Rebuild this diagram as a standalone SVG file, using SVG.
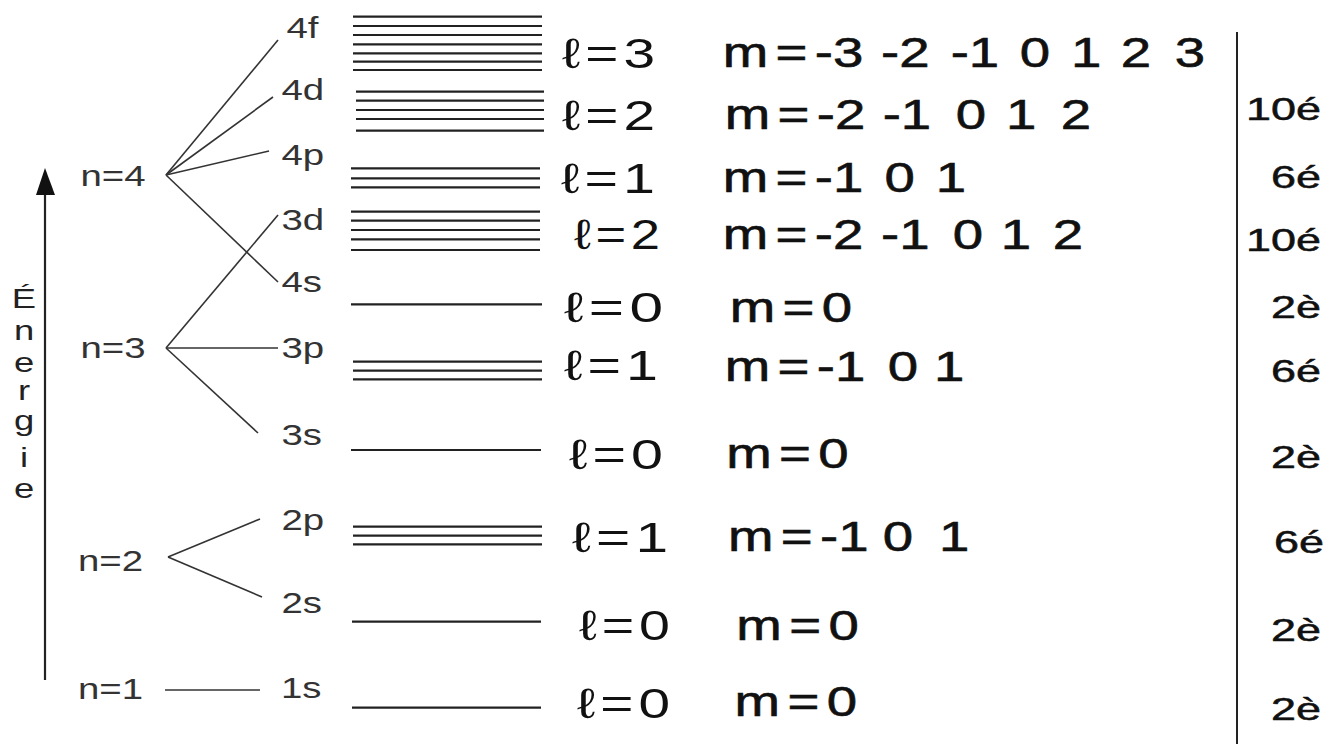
<svg xmlns="http://www.w3.org/2000/svg" width="1330" height="744" viewBox="0 0 1330 744">
<style>
.lbl{font-family:"Liberation Sans",Arial,sans-serif;font-size:30px;fill:#333}
.ell{font-family:"Liberation Sans",Arial,sans-serif;font-size:42px;fill:#111;word-spacing:-8px}
.m{font-family:"Liberation Sans",Arial,sans-serif;font-size:42px;fill:#111;stroke:#111;stroke-width:0.6px;word-spacing:-6px}
.e{font-family:"Liberation Sans",Arial,sans-serif;font-size:31px;fill:#111;stroke:#111;stroke-width:0.5px;text-anchor:end}
.lev line{stroke:#222;stroke-width:2.2}
.conn line{stroke:#333;stroke-width:1.6}
</style>
<rect width="1330" height="744" fill="#fff"/>

<g id="axis">
<line x1="45" y1="680" x2="45" y2="192" stroke="#222" stroke-width="2.2"/>
<polygon points="36,195 45,168 55,195" fill="#111"/>
<text class="lbl" transform="matrix(1.3 0 0 1 24 0)" text-anchor="middle" style="font-size:28px;fill:#222"><tspan x="0" y="308">É</tspan><tspan x="0" y="340">n</tspan><tspan x="0" y="372">e</tspan><tspan x="0" y="400">r</tspan><tspan x="0" y="430">g</tspan><tspan x="0" y="467">i</tspan><tspan x="0" y="498">e</tspan></text>
</g>

<g id="shell-n4"><text class="lbl" transform="matrix(1.28 0 0 1 80.5 186)">n=4</text></g>
<g id="shell-n3"><text class="lbl" transform="matrix(1.28 0 0 1 80.5 358)">n=3</text></g>
<g id="shell-n2"><text class="lbl" transform="matrix(1.28 0 0 1 78 571)">n=2</text></g>
<g id="shell-n1"><text class="lbl" transform="matrix(1.28 0 0 1 78 699)">n=1</text></g>

<g id="connectors" class="conn">
<line x1="166" y1="175" x2="278" y2="40"/>
<line x1="166" y1="175" x2="273" y2="97"/>
<line x1="166" y1="175" x2="269" y2="151"/>
<line x1="166" y1="175" x2="278" y2="282"/>
<line x1="166" y1="348" x2="278" y2="215"/>
<line x1="166" y1="348" x2="278" y2="348"/>
<line x1="166" y1="348" x2="258" y2="433"/>
<line x1="168" y1="557" x2="260" y2="519"/>
<line x1="168" y1="557" x2="262" y2="597"/>
<line x1="165" y1="690" x2="260" y2="690"/>
</g>

<g id="sub-4f">
<text class="lbl" transform="matrix(1.28 0 0 1 286.4 38)">4f</text>
<g class="lev"><line x1="353" y1="16.7" x2="542" y2="16.7"/><line x1="353" y1="26" x2="542" y2="26"/><line x1="353" y1="35" x2="542" y2="35"/><line x1="353" y1="44.3" x2="542" y2="44.3"/><line x1="353" y1="53.3" x2="542" y2="53.3"/><line x1="353" y1="61.7" x2="542" y2="61.7"/><line x1="353" y1="70" x2="542" y2="70"/></g>
</g>
<g id="sub-4d">
<text class="lbl" transform="matrix(1.28 0 0 1 281.4 100)">4d</text>
<g class="lev"><line x1="356" y1="91.7" x2="544" y2="91.7"/><line x1="356" y1="100.7" x2="544" y2="100.7"/><line x1="356" y1="110" x2="544" y2="110"/><line x1="356" y1="119" x2="544" y2="119"/><line x1="356" y1="130.7" x2="544" y2="130.7"/></g>
</g>
<g id="sub-4p">
<text class="lbl" transform="matrix(1.28 0 0 1 281.4 165)">4p</text>
<g class="lev"><line x1="351" y1="168.3" x2="540" y2="168.3"/><line x1="351" y1="178.3" x2="540" y2="178.3"/><line x1="351" y1="187.3" x2="540" y2="187.3"/></g>
</g>
<g id="sub-3d">
<text class="lbl" transform="matrix(1.28 0 0 1 281.4 230)">3d</text>
<g class="lev"><line x1="351" y1="211.7" x2="540" y2="211.7"/><line x1="351" y1="220.7" x2="540" y2="220.7"/><line x1="351" y1="230" x2="540" y2="230"/><line x1="351" y1="239.3" x2="540" y2="239.3"/><line x1="351" y1="250" x2="540" y2="250"/></g>
</g>
<g id="sub-4s">
<text class="lbl" transform="matrix(1.28 0 0 1 281.4 291.7)">4s</text>
<g class="lev"><line x1="351" y1="304.3" x2="542" y2="304.3"/></g>
</g>
<g id="sub-3p">
<text class="lbl" transform="matrix(1.28 0 0 1 281.4 358)">3p</text>
<g class="lev"><line x1="353" y1="361.7" x2="542" y2="361.7"/><line x1="353" y1="370.7" x2="542" y2="370.7"/><line x1="353" y1="379.3" x2="542" y2="379.3"/></g>
</g>
<g id="sub-3s">
<text class="lbl" transform="matrix(1.28 0 0 1 281.4 445)">3s</text>
<g class="lev"><line x1="351" y1="450" x2="541" y2="450"/></g>
</g>
<g id="sub-2p">
<text class="lbl" transform="matrix(1.28 0 0 1 281.4 530)">2p</text>
<g class="lev"><line x1="353" y1="526.7" x2="542" y2="526.7"/><line x1="353" y1="535.7" x2="542" y2="535.7"/><line x1="353" y1="544.3" x2="542" y2="544.3"/></g>
</g>
<g id="sub-2s">
<text class="lbl" transform="matrix(1.28 0 0 1 281.4 613)">2s</text>
<g class="lev"><line x1="352" y1="621.7" x2="541" y2="621.7"/></g>
</g>
<g id="sub-1s">
<text class="lbl" transform="matrix(1.28 0 0 1 281 698)">1s</text>
<g class="lev"><line x1="352" y1="707.7" x2="541" y2="707.7"/></g>
</g>

<g id="row-4f">
<text class="ell" x="562" y="68" textLength="93" lengthAdjust="spacingAndGlyphs">ℓ = 3</text>
<text class="m" transform="scale(1.3 1)" y="67"><tspan x="556">m = -3</tspan><tspan x="672"> -2</tspan><tspan x="725.6"> -1</tspan><tspan x="778.8"> 0</tspan><tspan x="818.2"> 1</tspan><tspan x="856.4"> 2</tspan><tspan x="898"> 3</tspan></text>
</g>
<g id="row-4d">
<text class="ell" x="562" y="130" textLength="93" lengthAdjust="spacingAndGlyphs">ℓ = 2</text>
<text class="m" transform="scale(1.3 1)" y="129"><tspan x="557.5">m = -2</tspan><tspan x="673.3"> -1</tspan><tspan x="729.5"> 0</tspan><tspan x="768.2"> 1</tspan><tspan x="810.3"> 2</tspan></text>
<text class="e" transform="matrix(1.45 0 0 1 1321 120)">10é</text>
</g>
<g id="row-4p">
<text class="ell" x="561" y="193" textLength="94" lengthAdjust="spacingAndGlyphs">ℓ = 1</text>
<text class="m" transform="scale(1.3 1)" y="192"><tspan x="556">m = -1</tspan><tspan x="674.7"> 0</tspan><tspan x="714.1"> 1</tspan></text>
<text class="e" transform="matrix(1.45 0 0 1 1321 188)">6é</text>
</g>
<g id="row-3d">
<text class="ell" x="574" y="248.5" textLength="86" lengthAdjust="spacingAndGlyphs">ℓ = 2</text>
<text class="m" transform="scale(1.3 1)" y="249"><tspan x="556">m = -2</tspan><tspan x="672"> -1</tspan><tspan x="727.2"> 0</tspan><tspan x="764.1"> 1</tspan><tspan x="804.1"> 2</tspan></text>
<text class="e" transform="matrix(1.45 0 0 1 1321 251)">10é</text>
</g>
<g id="row-4s">
<text class="ell" x="564" y="322" textLength="99" lengthAdjust="spacingAndGlyphs">ℓ = 0</text>
<text class="m" transform="scale(1.3 1)" y="322.5" x="561.3">m = 0</text>
<text class="e" transform="matrix(1.45 0 0 1 1321 318)">2è</text>
</g>
<g id="row-3p">
<text class="ell" x="564" y="380" textLength="94" lengthAdjust="spacingAndGlyphs">ℓ = 1</text>
<text class="m" transform="scale(1.3 1)" y="381"><tspan x="557.5">m = -1</tspan><tspan x="677.2"> 0</tspan><tspan x="712.8"> 1</tspan></text>
<text class="e" transform="matrix(1.45 0 0 1 1321 382)">6é</text>
</g>
<g id="row-3s">
<text class="ell" x="569" y="468.5" textLength="94" lengthAdjust="spacingAndGlyphs">ℓ = 0</text>
<text class="m" transform="scale(1.3 1)" y="468.3" x="558.7">m = 0</text>
<text class="e" transform="matrix(1.45 0 0 1 1321 468)">2è</text>
</g>
<g id="row-2p">
<text class="ell" x="572" y="551.5" textLength="96" lengthAdjust="spacingAndGlyphs">ℓ = 1</text>
<text class="m" transform="scale(1.3 1)" y="551"><tspan x="560">m = -1</tspan><tspan x="673.4"> 0</tspan><tspan x="716.6"> 1</tspan></text>
<text class="e" transform="matrix(1.45 0 0 1 1324 553)">6é</text>
</g>
<g id="row-2s">
<text class="ell" x="579" y="640" textLength="91" lengthAdjust="spacingAndGlyphs">ℓ = 0</text>
<text class="m" transform="scale(1.3 1)" y="640" x="566.4">m = 0</text>
<text class="e" transform="matrix(1.45 0 0 1 1321 641)">2è</text>
</g>
<g id="row-1s">
<text class="ell" x="577" y="718" textLength="93" lengthAdjust="spacingAndGlyphs">ℓ = 0</text>
<text class="m" transform="scale(1.3 1)" y="716" x="565.1">m = 0</text>
<text class="e" transform="matrix(1.45 0 0 1 1321 720)">2è</text>
</g>

<g id="divider"><line x1="1237" y1="32" x2="1237" y2="744" stroke="#222" stroke-width="2"/></g>
</svg>
